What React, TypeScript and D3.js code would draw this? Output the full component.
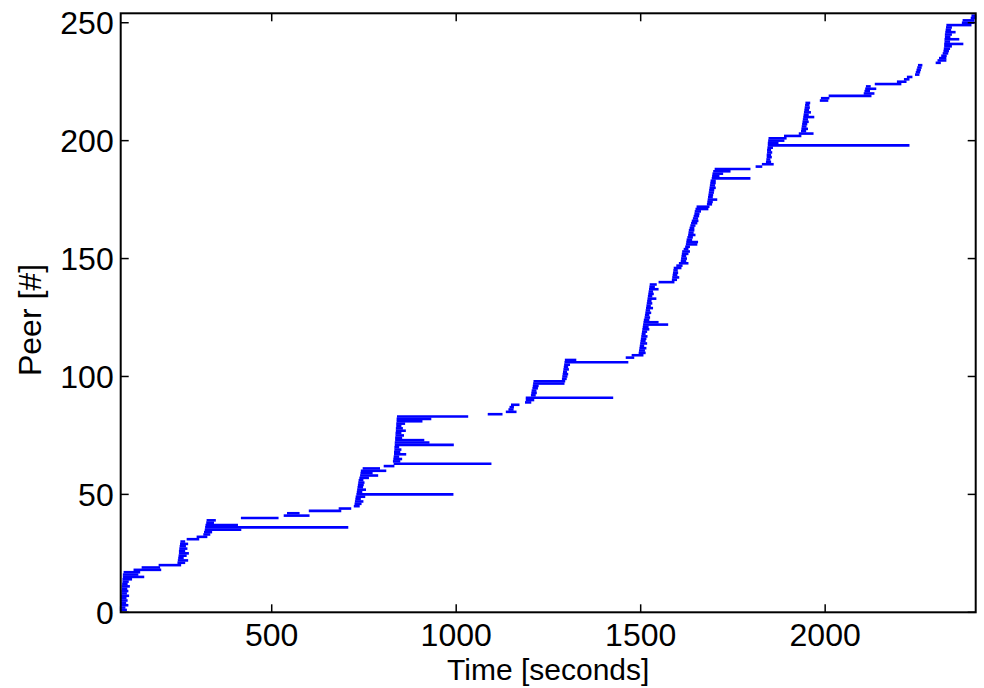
import React, { useRef, useEffect } from 'react';
import * as d3 from 'd3';

// join / leave time (seconds) of each peer, peer n = index + 1
const joinTimes: number[] = [
  92, 92, 93, 93, 94, 95, 95, 96, 96, 97, 97, 98, 99, 99, 100, 100, 102, 129, 151, 197,
  248, 249, 250, 251, 252, 252, 253, 254, 255, 256, 273, 300, 318, 320, 322, 323, 324, 326, 327, 420,
  536, 545, 604, 685, 726, 728, 729, 730, 731, 733, 734, 735, 736, 737, 738, 739, 741, 743, 744, 745,
  750, 807, 834, 832, 833, 834, 835, 835, 836, 836, 837, 837, 838, 838, 839, 839, 840, 840, 841, 841,
  842, 842, 843, 1089, 1138, 1145, 1148, 1152, 1190, 1192, 1192, 1206, 1207, 1208, 1210, 1211, 1212, 1213, 1290, 1291,
  1292, 1293, 1294, 1295, 1296, 1297, 1298, 1463, 1479, 1498, 1499, 1500, 1501, 1502, 1503, 1504, 1505, 1506, 1507, 1508,
  1509, 1510, 1511, 1512, 1514, 1515, 1516, 1517, 1518, 1519, 1520, 1521, 1522, 1523, 1524, 1525, 1526, 1527, 1528, 1552,
  1588, 1589, 1590, 1591, 1592, 1593, 1600, 1607, 1612, 1613, 1614, 1615, 1616, 1620, 1624, 1626, 1627, 1628, 1630, 1632,
  1633, 1634, 1636, 1638, 1640, 1642, 1645, 1647, 1649, 1650, 1652, 1655, 1683, 1684, 1685, 1686, 1687, 1688, 1689, 1690,
  1691, 1692, 1693, 1696, 1697, 1698, 1700, 1704, 1815, 1832, 1843, 1844, 1845, 1845, 1846, 1846, 1847, 1848, 1848, 1849,
  1850, 1892, 1932, 1938, 1939, 1940, 1941, 1942, 1943, 1944, 1945, 1946, 1947, 1948, 1949, 1950, 1989, 1992, 2013, 2108,
  2110, 2112, 2114, 2138, 2198, 2217, 2225, 2247, 2249, 2251, 2253, 2255, 2303, 2308, 2312, 2318, 2322, 2324, 2325, 2326,
  2326, 2327, 2327, 2328, 2328, 2329, 2330, 2331, 2332, 2374, 2376, 2398, 2400,
];

const leaveTimes: number[] = [
  104, 100, 108, 102, 106, 103, 110, 104, 108, 105, 112, 106, 109, 118, 151, 135, 140, 197, 194, 251,
  262, 270, 258, 266, 272, 262, 268, 264, 270, 262, 300, 322, 330, 335, 414, 704, 405, 340, 345, 515,
  599, 572, 685, 712, 735, 740, 745, 738, 750, 989, 742, 752, 744, 746, 748, 745, 760, 785, 770, 807,
  790, 829, 1092, 845, 850, 842, 861, 845, 848, 842, 990, 924, 910, 850, 855, 848, 860, 852, 848, 858,
  905, 929, 1029, 1122, 1160, 1152, 1153, 1168, 1200, 1208, 1422, 1212, 1215, 1214, 1218, 1220, 1290, 1292, 1296, 1298,
  1300, 1297, 1302, 1300, 1305, 1463, 1322, 1479, 1504, 1510, 1508, 1512, 1506, 1514, 1510, 1512, 1515, 1510, 1514, 1520,
  1518, 1571, 1545, 1520, 1522, 1520, 1525, 1522, 1530, 1524, 1528, 1526, 1539, 1528, 1532, 1530, 1545, 1535, 1540, 1588,
  1595, 1601, 1596, 1598, 1597, 1607, 1610, 1626, 1620, 1622, 1620, 1626, 1630, 1626, 1630, 1650, 1652, 1636, 1638, 1645,
  1640, 1642, 1642, 1645, 1650, 1653, 1652, 1655, 1656, 1660, 1680, 1683, 1690, 1692, 1704, 1692, 1693, 1695, 1696, 1700,
  1698, 1700, 1700, 1794, 1710, 1720, 1740, 1794, 1826, 1857, 1850, 1848, 1852, 1850, 1853, 1850, 1855, 2225, 1870, 1886,
  1892, 1932, 1965, 1945, 1950, 1946, 1948, 1952, 1950, 1967, 1952, 1958, 1953, 1955, 1954, 1956, 2005, 2008, 2122, 2130,
  2118, 2135, 2120, 2203, 2217, 2225, 2233, 2252, 2254, 2256, 2258, 2260, 2310, 2325, 2325, 2326, 2330, 2332, 2335, 2340,
  2371, 2335, 2360, 2336, 2340, 2350, 2338, 2340, 2393, 2401, 2401, 2406, 2406,
];

const xTicks = [500, 1000, 1500, 2000];
const yTicks = [0, 50, 100, 150, 200, 250];

const PeerChart = () => {
  const ref = useRef<SVGSVGElement | null>(null);

  useEffect(() => {
    const svg = d3.select(ref.current);
    svg.selectAll('*').remove();

    const left = 120.7, right = 975.7, top = 13.3, bottom = 612.3;
    const font = "'Liberation Sans', Arial, Helvetica, sans-serif";

    const x = d3.scaleLinear().domain([90.7, 2408]).range([left, right]);
    const y = d3.scaleLinear().domain([0, 254]).range([bottom, top]);

    const peers = joinTimes.map((t, i) => ({ peer: i + 1, start: t, end: leaveTimes[i] }));

    svg.append('g')
      .selectAll('line')
      .data(peers)
      .join('line')
      .attr('x1', d => x(d.start))
      .attr('x2', d => x(d.end))
      .attr('y1', d => y(d.peer))
      .attr('y2', d => y(d.peer))
      .attr('stroke', '#0000ff')
      .attr('stroke-width', 2.6)
      .attr('stroke-linecap', 'square');

    // box
    svg.append('rect')
      .attr('x', left).attr('y', top)
      .attr('width', right - left).attr('height', bottom - top)
      .attr('fill', 'none').attr('stroke', '#000').attr('stroke-width', 2);

    const tickLen = 8;
    const ticks = svg.append('g').attr('stroke', '#000').attr('stroke-width', 1.5);
    xTicks.forEach(t => {
      ticks.append('line').attr('x1', x(t)).attr('x2', x(t)).attr('y1', bottom).attr('y2', bottom - tickLen);
      ticks.append('line').attr('x1', x(t)).attr('x2', x(t)).attr('y1', top).attr('y2', top + tickLen);
    });
    yTicks.forEach(t => {
      ticks.append('line').attr('x1', left).attr('x2', left + tickLen).attr('y1', y(t)).attr('y2', y(t));
      ticks.append('line').attr('x1', right).attr('x2', right - tickLen).attr('y1', y(t)).attr('y2', y(t));
    });

    svg.append('g')
      .selectAll('text')
      .data(xTicks)
      .join('text')
      .attr('x', d => x(d))
      .attr('y', 646)
      .attr('text-anchor', 'middle')
      .attr('font-family', font)
      .attr('font-size', 32)
      .text(d => d);

    svg.append('g')
      .selectAll('text')
      .data(yTicks)
      .join('text')
      .attr('x', left - 7)
      .attr('y', d => y(d) + 11.5)
      .attr('text-anchor', 'end')
      .attr('font-family', font)
      .attr('font-size', 32)
      .text(d => d);

    svg.append('text')
      .attr('x', (left + right) / 2)
      .attr('y', 680)
      .attr('text-anchor', 'middle')
      .attr('font-family', font)
      .attr('font-size', 30)
      .text('Time [seconds]');

    svg.append('text')
      .attr('transform', 'translate(41,320) rotate(-90)')
      .attr('text-anchor', 'middle')
      .attr('font-family', font)
      .attr('font-size', 32)
      .text('Peer [#]');
  }, []);

  return (
    <svg
      ref={ref}
      width={984}
      height={688}
      style={{ position: 'absolute', left: 0, top: 0, background: '#fff' }}
    />
  );
};

export default function App() {
  return <PeerChart />;
}
